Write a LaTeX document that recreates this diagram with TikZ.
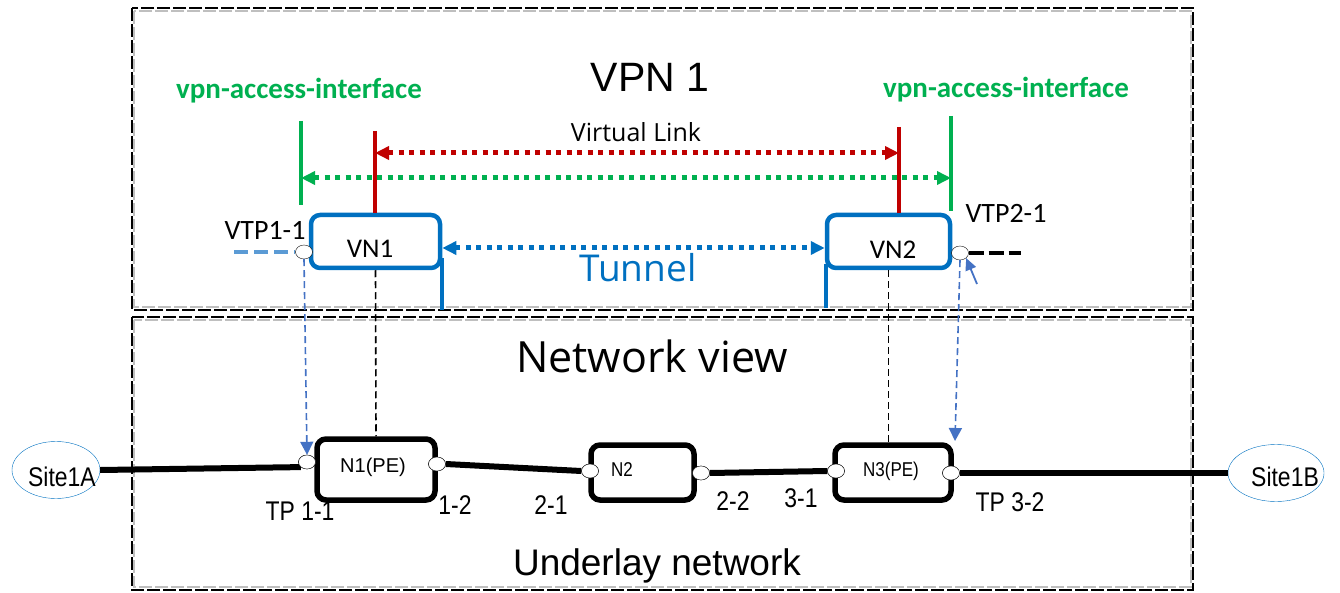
\documentclass[tikz,border=0pt]{standalone}
\usepackage{fontspec}
\setmainfont{Carlito}
\newfontfamily\arialfont{Liberation Sans}
\newfontfamily\narrowfont[FakeStretch=0.85]{Liberation Sans}
\newfontfamily\segoefont{Open Sans}
\usetikzlibrary{arrows.meta,shapes}

\definecolor{vblue}{HTML}{0070C0}
\definecolor{vred}{HTML}{C00000}
\definecolor{vgreen}{HTML}{00B050}
\definecolor{lblue}{HTML}{5B9BD5}
\definecolor{mblue}{HTML}{4472C4}

\begin{document}
\begin{tikzpicture}
            [x=1pt,y=-1pt,>={Triangle[length=14pt,width=13pt]},
             frame/.style={line width=1.3pt,dash pattern=on 13pt off 3pt},
             vnode/.style={rectangle,rounded corners=9pt,draw=vblue,line width=4.5pt,fill=white,inner sep=0pt},
             unode/.style={rectangle,rounded corners=9pt,draw,line width=5.5pt,fill=white,inner sep=0pt},
             port/.style={ellipse,draw,fill=white,thin,minimum width=17pt,minimum height=14pt,inner sep=0pt},
             site/.style={ellipse,draw=vblue,thin,inner sep=0pt,minimum width=88pt,minimum height=57pt},
             bar/.style={line width=4.5pt},
             dots/.style={<->,line width=5pt,dash pattern=on 5pt off 5.5pt},
             link/.style={line width=6pt},
             drop/.style={line width=1.6pt,dash pattern=on 7pt off 4pt},
             small/.style={font=\narrowfont\fontsize{27}{30}\selectfont}]

            \useasboundingbox (0,0) rectangle (1340,593);

            % frames
            \draw[frame] (132,8) rectangle (1193,310);
            \draw[frame,gray!50] (134,11) rectangle (1191,307);
            \draw[frame] (132,317) rectangle (1193,590);
            \draw[frame,gray!50] (134,320) rectangle (1191,587);

            % titles
            \node (vpn) at (650,77) {\arialfont\fontsize{41}{48}\selectfont VPN 1};
            \node (netview) at (652,356) {\segoefont\fontsize{43}{48}\selectfont Network view};
            \node (underlay) at (657,566) {\arialfont\fontsize{37}{44}\selectfont Underlay network};
            \node (vai1) [text=vgreen] at (299,91) {\bfseries\fontsize{29}{34}\selectfont vpn-access-interface};
            \node (vai2) [text=vgreen] at (1006,90) {\bfseries\fontsize{29}{34}\selectfont vpn-access-interface};
            \node (vlink) at (636,132) {\segoefont\fontsize{25}{28}\selectfont Virtual Link};
            \node (tunnel) [text=vblue] at (638,268) {\segoefont\fontsize{37}{42}\selectfont Tunnel};

            % virtual nodes
            \node (vn1) [vnode,minimum width=129pt,minimum height=53pt] at (375.5,241.5) {};
            \node (vn2) [vnode,minimum width=123pt,minimum height=53pt] at (888.5,241.5) {};
            \node (vn1t) at (370,249) {\fontsize{27}{30}\selectfont VN1};
            \node (vn2t) at (893,250) {\fontsize{27}{30}\selectfont VN2};

            \coordinate (t1a) at (442,258);
            \coordinate (t1b) at (442,310);
            \coordinate (t2a) at (826,264);
            \coordinate (t2b) at (826,308);
            \draw[vblue,bar] (t1a) -- (t1b);
            \draw[vblue,bar] (t2a) -- (t2b);
            \draw[vblue,dots] ([yshift=-6.5pt]vn1.east) -- ([yshift=-6.5pt]vn2.west);

            % virtual link bars
            \coordinate (r1) at (375,131);
            \coordinate (r2) at (899,127);
            \coordinate (rl) at (375,153);
            \coordinate (rr) at (899,153);
            \draw[vred,bar] (r1) -- (r1 |- vn1.north);
            \draw[vred,bar] (r2) -- (r2 |- vn2.north);
            \draw[vred,dots] (rl) -- (rr);

            \coordinate (g1a) at (301,121);
            \coordinate (g1b) at (301,205);
            \coordinate (g2a) at (951,116);
            \coordinate (g2b) at (951,211);
            \coordinate (gl) at (301,178);
            \coordinate (gr) at (951,178);
            \draw[vgreen,bar] (g1a) -- (g1b);
            \draw[vgreen,bar] (g2a) -- (g2b);
            \draw[vgreen,dots] (gl) -- (gr);

            % virtual termination points
            \node (vtp1) [port] at (304,252) {};
            \node (vtp2) [port] at (960,253) {};
            \node (vtp1l) at (265,230) {\fontsize{28}{30}\selectfont VTP1-1};
            \node (vtp2l) at (1006,213) {\fontsize{28}{30}\selectfont VTP2-1};
            \coordinate (vtp1a) at (234,252);
            \coordinate (vtp2a) at (1021,253);
            \coordinate (vtp2p) at (977,284);
            \draw[lblue,line width=4.5pt,dash pattern=on 14pt off 6pt] (vtp1a) -- (vtp1.west);
            \draw[line width=4.5pt,dash pattern=on 15pt off 5pt] (vtp2.east) -- (vtp2a);
            \draw[->,mblue,line width=1.8pt,>={Triangle[length=12pt,width=11pt]}] (vtp2p) -- (vtp2.south east);

            % underlay
            \node (site1a) [site,label={[xshift=6pt,yshift=-7pt]center:\narrowfont\fontsize{27}{30}\selectfont Site1A}] at (56,470) {};
            \node (site1b) [site,minimum width=96pt,label={[xshift=9pt,yshift=-4pt]center:\narrowfont\fontsize{27}{30}\selectfont Site1B}] at (1276,473) {};

            \node (n1) [unode,minimum width=118pt,minimum height=61pt] at (376,469.5) {};
            \node (n2) [unode,minimum width=103pt,minimum height=55pt] at (642.5,472.5) {};
            \node (n3) [unode,minimum width=116pt,minimum height=55pt] at (893,472.5) {};
            \node (n1t) at (373,467) {\arialfont\fontsize{20}{24}\selectfont N1(PE)};
            \node (n2t) at (622,470) {\narrowfont\fontsize{20}{24}\selectfont N2};
            \node (n3t) at (891,471) {\narrowfont\fontsize{20}{24}\selectfont N3(PE)};

            \node (tp11) [port] at (307,462) {};
            \node (tp12) [port] at (437,464) {};
            \node (tp21) [port] at (590,471) {};
            \node (tp22) [port] at (701,473) {};
            \node (tp31) [port] at (836,471) {};
            \node (tp32) [port] at (951,473) {};

            \draw[link] (site1a.east) -- (tp11.south west);
            \draw[link] (tp12.east) -- (tp21.west);
            \draw[link] (tp22.east) -- (tp31.west);
            \draw[link] (tp32.east) -- (site1b.west);
            % redraw ports over the links
            \foreach \p in {tp11,tp12,tp21,tp22,tp31,tp32}
              \node [port] at (\p) {};

            \node (tp11l) [small] at (300,511) {TP 1-1};
            \node (tp12l) [small] at (455,505) {1-2};
            \node (tp21l) [small] at (551,505) {2-1};
            \node (tp22l) [small] at (733,501) {2-2};
            \node (tp31l) [small] at (801,498) {3-1};
            \node (tp32l) [small] at (1010,502) {TP 3-2};

            % mappings
            \coordinate (m2) at (955,441);
            \draw[drop] (vn1.south) -- (n1.north);
            \draw[drop] (vn2.south) -- (n3.north -| vn2.south);
            \draw[->,mblue,drop,>={Triangle[length=13pt,width=13pt]}] (vtp1.south) -- (tp11.north);
            \draw[->,mblue,drop,>={Triangle[length=13pt,width=13pt]}] (vtp2.south) -- (m2);
        \end{tikzpicture}
\end{document}
